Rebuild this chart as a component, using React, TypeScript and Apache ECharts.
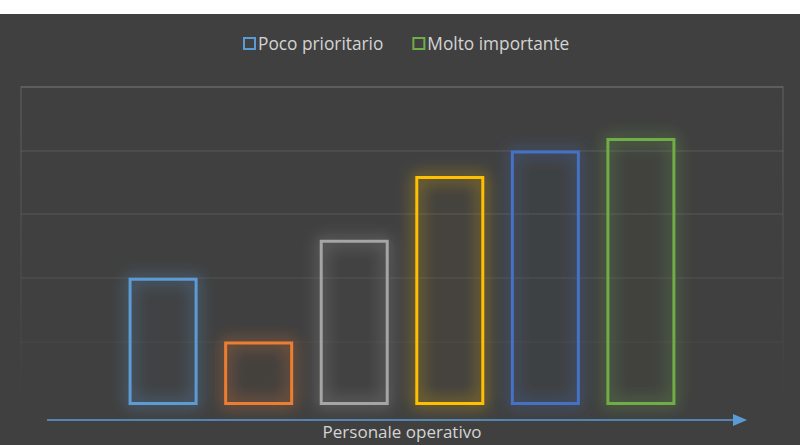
import React, { useEffect, useRef } from "react";
import * as echarts from "echarts";

const categories = ["Personale operativo"];
const seriesNames = [
  "Poco prioritario",
  "Poco importante",
  "Neutrale",
  "Abbastanza importante",
  "Importante",
  "Molto importante",
];
const seriesValues = [2.0, 1.0, 2.6, 3.6, 4.0, 4.2];
const seriesColors = ["#5B9BD5", "#ED7D31", "#A5A5A5", "#FFC000", "#4472C4", "#70AD47"];
const legendItems = ["Poco prioritario", "Molto importante"];
const yTicks = [0, 1, 2, 3, 4, 5];

const FONT = "'Open Sans', 'Noto Sans', sans-serif";

export default function App() {
  const ref = useRef<HTMLDivElement>(null);
  useEffect(() => {
    if (!ref.current) return;
    const chart = echarts.init(ref.current, null, { renderer: "svg" });
    const splitColors = [
      "rgba(255,255,255,0.0)",
      "rgba(255,255,255,0.035)",
      "rgba(255,255,255,0.06)",
      "rgba(255,255,255,0.08)",
      "rgba(255,255,255,0.09)",
      "rgba(255,255,255,0.1)",
    ];
    chart.setOption({
      animation: false,
      backgroundColor: "#404040",
      legend: {
        data: legendItems.map((n) => {
          const i = seriesNames.indexOf(n);
          return {
            name: n,
            icon: "rect",
            itemStyle: { color: "transparent", borderColor: seriesColors[i], borderWidth: 2 },
          };
        }),
        top: 16,
        left: 238,
        itemWidth: 11,
        itemHeight: 11,
        itemGap: 29,
        textStyle: { color: "#d4d4d4", fontSize: 17.3, fontFamily: FONT, padding: [0, 0, 0, -2] },
      },
      grid: {
        left: 21,
        right: 17,
        top: 73,
        bottom: 40,
        show: true,
        borderWidth: 1.5,
        borderColor: new echarts.graphic.LinearGradient(0, 0, 0, 1, [
          { offset: 0, color: "rgba(255,255,255,0.12)" },
          { offset: 1, color: "rgba(255,255,255,0.0)" },
        ]),
      },
      xAxis: {
        type: "category",
        data: categories,
        axisLine: { show: false },
        axisTick: { show: false },
        axisLabel: { color: "#d4d4d4", fontSize: 17, fontFamily: FONT, margin: 18 },
      },
      yAxis: {
        type: "value",
        min: yTicks[0],
        max: yTicks[yTicks.length - 1],
        interval: 1,
        axisLabel: { show: false },
        axisLine: { show: false },
        axisTick: { show: false },
        splitLine: { show: true, lineStyle: { color: splitColors, width: 1.5 } },
      },
      series: seriesNames.map((name, i) => ({
        name,
        type: "bar",
        data: [seriesValues[i]],
        barWidth: 69,
        barGap: "38.5%",
        itemStyle: {
          color: "rgba(64,64,64,0.02)",
          borderColor: seriesColors[i],
          borderWidth: 3,
          shadowBlur: 16,
          shadowColor: seriesColors[i],
        },
      })),
      graphic: [
        {
          type: "line",
          shape: { x1: 47, y1: 406, x2: 736, y2: 406 },
          style: { stroke: "#5B9BD5", lineWidth: 1.5 },
        },
        {
          type: "polygon",
          shape: { points: [[733, 400], [747, 406], [733, 412]] },
          style: { fill: "#5B9BD5" },
        },
      ],
    });
    return () => chart.dispose();
  }, []);
  return (
    <div style={{ position: "absolute", left: 0, top: 0, width: 800, height: 445, background: "#ffffff" }}>
      <div ref={ref} style={{ position: "absolute", left: 0, top: 14, width: 800, height: 431 }} />
    </div>
  );
}
